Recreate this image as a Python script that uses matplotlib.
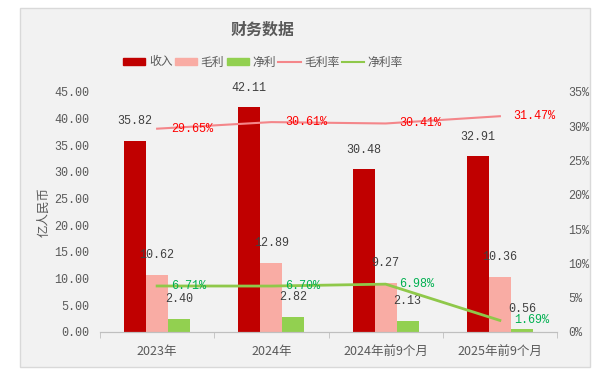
import matplotlib
matplotlib.use("Agg")
import matplotlib.pyplot as plt
import matplotlib.patches as mpatches
from matplotlib.lines import Line2D
import numpy as np

categories = ["2023年", "2024年", "2024年前9个月", "2025年前9个月"]
revenue = [35.82, 42.11, 30.48, 32.91]
gross = [10.62, 12.89, 9.27, 10.36]
net = [2.40, 2.82, 2.13, 0.56]
gross_margin = [29.65, 30.61, 30.41, 31.47]
net_margin = [6.71, 6.70, 6.98, 1.69]
left_ticks = [0, 5, 10, 15, 20, 25, 30, 35, 40, 45]
right_ticks = [0, 5, 10, 15, 20, 25, 30, 35]

num_font = ["Liberation Mono", "Noto Sans CJK SC"]
cjk_font = ["Noto Sans CJK SC", "DejaVu Sans"]

c_rev = "#c00000"
c_gross = "#f9aca4"
c_net = "#92d050"
c_gm = "#f4868a"
c_nm = "#8fc84a"

fig = plt.figure(figsize=(6.1, 3.81), dpi=100)
fig.patch.set_facecolor("white")
fig.patches.append(mpatches.Rectangle((20 / 610, 1 - 367 / 381), 570 / 610, 359 / 381,
                                      transform=fig.transFigure, facecolor="#f2f2f2",
                                      edgecolor="#d9d9d9", linewidth=1, zorder=-5))

ax = fig.add_axes([100 / 610, 1 - 332 / 381, 457 / 610, 240 / 381])
ax.set_facecolor("none")
ax2 = ax.twinx()

x = np.arange(len(categories))
w = 0.193
b1 = ax.bar(x - w, revenue, w, color=c_rev, zorder=2)
b2 = ax.bar(x, gross, w, color=c_gross, zorder=2)
b3 = ax.bar(x + w, net, w, color=c_net, zorder=2)

for bars, vals in [(b1, revenue), (b2, gross), (b3, net)]:
    for r, v in zip(bars, vals):
        ax.annotate("%.2f" % v, (r.get_x() + r.get_width() / 2, v), xytext=(0, 10),
                    textcoords="offset points", ha="center", va="bottom",
                    fontsize=8.5, color="#404040", family=num_font, zorder=5)

ax2.plot(x, gross_margin, color=c_gm, lw=1.5, zorder=3)
ax2.plot(x, net_margin, color=c_nm, lw=2, zorder=3)
for xi, v in zip(x, gross_margin):
    ax2.annotate("%.2f%%" % v, (xi, v), xytext=(10, 0), textcoords="offset points",
                 ha="left", va="center", fontsize=8.5, color="#ff0000", family=num_font)
for xi, v in zip(x, net_margin):
    ax2.annotate("%.2f%%" % v, (xi, v), xytext=(10, 0), textcoords="offset points",
                 ha="left", va="center", fontsize=8.5, color="#00b050", family=num_font)

ax.set_xlim(-0.5, len(categories) - 0.5)
ax.set_ylim(0, 45)
ax2.set_ylim(0, 35)
ax.set_yticks(left_ticks)
ax.set_yticklabels(["%.2f" % t for t in left_ticks], family=num_font)
ax2.set_yticks(right_ticks)
ax2.set_yticklabels(["%d%%" % t for t in right_ticks], family=num_font)
ax.set_xticks(x)
ax.set_xticklabels(categories, family=cjk_font)
ax.set_xticks(np.arange(len(categories) + 1) - 0.5, minor=True)

for a in (ax, ax2):
    for s in ("top", "left", "right"):
        a.spines[s].set_visible(False)
    a.spines["bottom"].set_color("#bfbfbf")
ax.tick_params(axis="x", which="major", length=0, pad=9, labelsize=9, labelcolor="#595959")
ax.tick_params(axis="x", which="minor", length=4, color="#bfbfbf")
ax.tick_params(axis="y", length=0, pad=8, labelsize=8.5, labelcolor="#595959")
ax2.tick_params(axis="y", length=0, pad=8, labelsize=8.5, labelcolor="#595959")

fig.text(44 / 610, 1 - 212 / 381, "亿人民币", rotation=90, ha="center", va="center",
         fontsize=9, color="#595959", family=cjk_font)
fig.text(263 / 610, 1 - 30 / 381, "财务数据", ha="center", va="center", fontsize=11.5,
         fontweight="bold", color="#595959", family=cjk_font)

handles = [
    mpatches.Patch(color=c_rev, label="收入"),
    mpatches.Patch(color=c_gross, label="毛利"),
    mpatches.Patch(color=c_net, label="净利"),
    Line2D([], [], color=c_gm, lw=1.5, label="毛利率"),
    Line2D([], [], color=c_nm, lw=1.5, label="净利率"),
]
fig.legend(handles=handles, loc="center", bbox_to_anchor=(263 / 610, 1 - 62 / 381), ncol=5,
           frameon=False, prop={"family": cjk_font, "size": 8.5}, labelcolor="#595959",
           handlelength=1.9, handleheight=0.6, handletextpad=0.3, columnspacing=0.2)

fig.savefig("out.png", dpi=100)
